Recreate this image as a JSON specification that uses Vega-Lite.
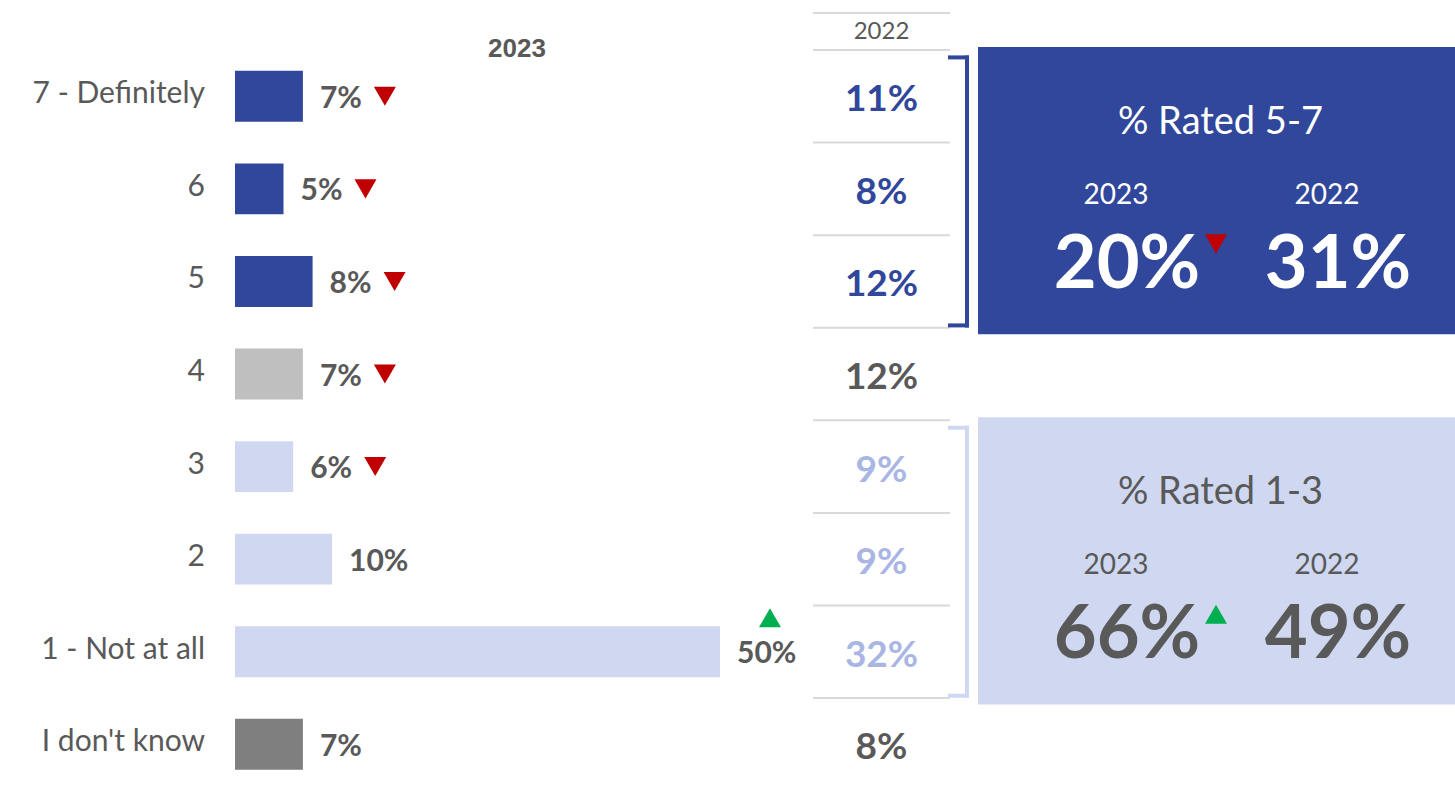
{
  "$schema": "https://vega.github.io/schema/vega-lite/v6.json",
  "padding": 0,
  "spacing": 0,
  "bounds": "flush",
  "background": "white",
  "resolve": {"scale": {"color": "independent", "shape": "independent"}},
  "datasets": {
    "rows": [
      {"cat": "7 - Definitely", "tier": "5-7", "v2023": 0.07, "v2022": 0.11, "change": "down"},
      {"cat": "6", "tier": "5-7", "v2023": 0.05, "v2022": 0.08, "change": "down"},
      {"cat": "5", "tier": "5-7", "v2023": 0.08, "v2022": 0.12, "change": "down"},
      {"cat": "4", "tier": "4", "v2023": 0.07, "v2022": 0.12, "change": "down"},
      {"cat": "3", "tier": "1-3", "v2023": 0.06, "v2022": 0.09, "change": "down"},
      {"cat": "2", "tier": "1-3", "v2023": 0.10, "v2022": 0.09, "change": null},
      {"cat": "1 - Not at all", "tier": "1-3", "v2023": 0.50, "v2022": 0.32, "change": "up"},
      {"cat": "I don't know", "tier": "dk", "v2023": 0.07, "v2022": 0.08, "change": null}
    ],
    "groups": [
      {"group": "5-7", "title": "% Rated 5-7", "first": "7 - Definitely", "last": "5", "mid": "6"},
      {"group": "1-3", "title": "% Rated 1-3", "first": "3", "last": "1 - Not at all", "mid": "2"}
    ],
    "summary": [
      {"group": "5-7", "mid": "6", "year": "2023", "value": 0.20, "change": "down"},
      {"group": "5-7", "mid": "6", "year": "2022", "value": 0.31, "change": null},
      {"group": "1-3", "mid": "2", "year": "2023", "value": 0.66, "change": "up"},
      {"group": "1-3", "mid": "2", "year": "2022", "value": 0.49, "change": null}
    ]
  },
  "config": {
    "view": {"stroke": null},
    "axis": {"disable": true},
    "legend": {"disable": true},
    "text": {"font": "Lato"}
  },
  "hconcat": [
    {
      "width": 235,
      "height": 787,
      "data": {"name": "rows"},
      "mark": {"type": "text", "align": "right", "baseline": "middle", "dx": -30, "dy": -2, "fontSize": 30, "color": "#595959", "font": "Lato"},
      "encoding": {
        "y": {"field": "cat", "type": "nominal", "sort": null, "axis": null, "scale": {"domain": ["7 - Definitely", "6", "5", "4", "3", "2", "1 - Not at all", "I don't know"], "range": [50, 790.6], "paddingInner": 0, "paddingOuter": 0}},
        "x": {"value": "width"},
        "text": {"field": "cat"}
      }
    },
    {
      "width": 578,
      "height": 787,
      "layer": [
        {
          "data": {"name": "rows"},
          "mark": {"type": "bar", "height": {"band": 0.55}},
          "encoding": {
            "y": {"field": "cat", "type": "nominal", "sort": null, "axis": null, "scale": {"domain": ["7 - Definitely", "6", "5", "4", "3", "2", "1 - Not at all", "I don't know"], "range": [50, 790.6], "paddingInner": 0, "paddingOuter": 0}},
            "x": {"field": "v2023", "type": "quantitative", "axis": null, "scale": {"domain": [0, 0.5959], "nice": false, "zero": false}},
            "color": {"field": "tier", "type": "nominal", "legend": null, "scale": {"domain": ["5-7", "4", "1-3", "dk"], "range": ["#30479b", "#bfbfbf", "#cfd8f0", "#7f7f7f"]}}
          }
        },
        {
          "data": {"name": "rows"},
          "mark": {"type": "text", "align": "left", "baseline": "middle", "dx": 17, "dy": 2.5, "fontSize": 30, "fontWeight": "bold", "color": "#595959"},
          "encoding": {
            "y": {"field": "cat", "type": "nominal", "sort": null},
            "x": {"field": "v2023", "type": "quantitative"},
            "text": {"field": "v2023", "format": ".0%"}
          }
        },
        {
          "data": {"name": "rows"},
          "transform": [{"filter": "datum.change === 'down'"}],
          "mark": {"type": "point", "shape": "triangle-down", "filled": true, "size": 484, "color": "#c00000", "opacity": 1, "xOffset": 82},
          "encoding": {
            "y": {"field": "cat", "type": "nominal", "sort": null},
            "x": {"field": "v2023", "type": "quantitative"}
          }
        },
        {
          "data": {"name": "rows"},
          "transform": [{"filter": "datum.change === 'up'"}],
          "mark": {"type": "point", "shape": "triangle-up", "filled": true, "size": 484, "color": "#00b050", "opacity": 1, "xOffset": 50, "yOffset": -34},
          "encoding": {
            "y": {"field": "cat", "type": "nominal", "sort": null},
            "x": {"field": "v2023", "type": "quantitative"}
          }
        },
        {
          "data": {"values": [{"h": "2023"}]},
          "mark": {"type": "text", "font": "Liberation Sans", "fontWeight": "bold", "fontSize": 26, "color": "#595959", "baseline": "middle", "dy": -1, "dx": -7},
          "encoding": {
            "y": {"datum": "7 - Definitely", "type": "nominal", "bandPosition": 0},
            "text": {"field": "h"}
          }
        }
      ]
    },
    {
      "width": 137,
      "height": 787,
      "layer": [
        {
          "data": {"name": "rows"},
          "mark": {"type": "rule", "color": "#d9d9d9", "strokeWidth": 2},
          "encoding": {
            "y": {"field": "cat", "type": "nominal", "sort": null, "bandPosition": 0, "axis": null, "scale": {"domain": ["7 - Definitely", "6", "5", "4", "3", "2", "1 - Not at all", "I don't know"], "range": [50, 790.6], "paddingInner": 0, "paddingOuter": 0}}
          }
        },
        {
          "data": {"values": [{"h": "2022"}]},
          "mark": {"type": "rule", "color": "#d9d9d9", "strokeWidth": 2, "yOffset": -37},
          "encoding": {
            "y": {"datum": "7 - Definitely", "type": "nominal", "bandPosition": 0}
          }
        },
        {
          "data": {"values": [{"h": "2022"}]},
          "mark": {"type": "text", "fontSize": 24, "color": "#595959", "baseline": "middle", "dy": -18},
          "encoding": {
            "y": {"datum": "7 - Definitely", "type": "nominal", "bandPosition": 0},
            "text": {"field": "h"}
          }
        },
        {
          "data": {"name": "rows"},
          "mark": {"type": "text", "fontSize": 37, "fontWeight": "bold", "baseline": "middle", "dy": 4},
          "encoding": {
            "y": {"field": "cat", "type": "nominal", "sort": null},
            "text": {"field": "v2022", "format": ".0%"},
            "color": {"field": "tier", "type": "nominal", "legend": null, "scale": {"domain": ["5-7", "4", "1-3", "dk"], "range": ["#30479b", "#595959", "#a9b6e4", "#595959"]}}
          }
        }
      ]
    },
    {
      "width": 28,
      "height": 787,
      "data": {"name": "groups"},
      "encoding": {
        "color": {"field": "group", "type": "nominal", "legend": null, "scale": {"domain": ["5-7", "1-3"], "range": ["#30479b", "#cfd8f0"]}}
      },
      "layer": [
        {
          "mark": {"type": "rule", "strokeWidth": 4, "strokeCap": "square"},
          "encoding": {
            "y": {"field": "first", "type": "nominal", "bandPosition": 0.08, "axis": null, "scale": {"domain": ["7 - Definitely", "6", "5", "4", "3", "2", "1 - Not at all", "I don't know"], "range": [50, 790.6], "paddingInner": 0, "paddingOuter": 0}},
            "x": {"datum": "inner", "type": "nominal", "axis": null, "scale": {"type": "point", "domain": ["inner", "outer"], "padding": 0.3235, "align": 0}},
            "x2": {"datum": "outer"}
          }
        },
        {
          "mark": {"type": "rule", "strokeWidth": 4, "strokeCap": "square"},
          "encoding": {
            "y": {"field": "last", "type": "nominal", "bandPosition": 0.975},
            "x": {"datum": "inner", "type": "nominal"},
            "x2": {"datum": "outer"}
          }
        },
        {
          "mark": {"type": "rule", "strokeWidth": 4, "strokeCap": "square"},
          "encoding": {
            "x": {"datum": "outer", "type": "nominal"},
            "y": {"field": "first", "type": "nominal", "bandPosition": 0.08},
            "y2": {"field": "last", "bandPosition": 0.975}
          }
        }
      ]
    },
    {
      "width": 477,
      "height": 787,
      "resolve": {"scale": {"color": "independent"}},
      "layer": [
        {
          "data": {"name": "groups"},
          "mark": {"type": "rect", "yOffset": -3, "y2Offset": 6.5},
          "encoding": {
            "y": {"field": "first", "type": "nominal", "bandPosition": 0, "axis": null, "scale": {"domain": ["7 - Definitely", "6", "5", "4", "3", "2", "1 - Not at all", "I don't know"], "range": [50, 790.6], "paddingInner": 0, "paddingOuter": 0}},
            "y2": {"field": "last", "bandPosition": 1},
            "color": {"field": "group", "type": "nominal", "legend": null, "scale": {"domain": ["5-7", "1-3"], "range": ["#30479b", "#cfd8f0"]}}
          }
        },
        {
          "data": {"name": "groups"},
          "mark": {"type": "text", "fontSize": 38, "baseline": "middle", "dy": -66, "dx": 4},
          "encoding": {
            "y": {"field": "mid", "type": "nominal"},
            "text": {"field": "title"},
            "color": {"field": "group", "type": "nominal", "legend": null, "scale": {"domain": ["5-7", "1-3"], "range": ["#ffffff", "#595959"]}}
          }
        },
        {
          "data": {"name": "summary"},
          "mark": {"type": "text", "fontSize": 28, "baseline": "middle", "dy": 7},
          "encoding": {
            "y": {"field": "mid", "type": "nominal"},
            "x": {"field": "year", "type": "nominal", "axis": null, "scale": {"type": "band", "domain": ["2023", "2022"], "paddingInner": 0, "paddingOuter": 0.1303, "align": 0.591}},
            "text": {"field": "year"},
            "color": {"field": "group", "type": "nominal", "legend": null, "scale": {"domain": ["5-7", "1-3"], "range": ["#ffffff", "#595959"]}}
          }
        },
        {
          "data": {"name": "summary"},
          "mark": {"type": "text", "fontSize": 74, "fontWeight": "bold", "baseline": "middle", "dy": 77, "dx": 11},
          "encoding": {
            "y": {"field": "mid", "type": "nominal"},
            "x": {"field": "year", "type": "nominal"},
            "text": {"field": "value", "format": ".0%"},
            "color": {"field": "group", "type": "nominal", "legend": null, "scale": {"domain": ["5-7", "1-3"], "range": ["#ffffff", "#595959"]}}
          }
        },
        {
          "data": {"name": "summary"},
          "transform": [{"filter": "datum.change != null"}],
          "mark": {"type": "point", "filled": true, "size": 484, "opacity": 1, "xOffset": 100, "yOffset": 55},
          "encoding": {
            "y": {"field": "mid", "type": "nominal"},
            "x": {"field": "year", "type": "nominal"},
            "shape": {"field": "change", "type": "nominal", "legend": null, "scale": {"domain": ["down", "up"], "range": ["triangle-down", "triangle-up"]}},
            "color": {"field": "change", "type": "nominal", "legend": null, "scale": {"domain": ["down", "up"], "range": ["#c00000", "#00b050"]}}
          }
        }
      ]
    }
  ]
}
